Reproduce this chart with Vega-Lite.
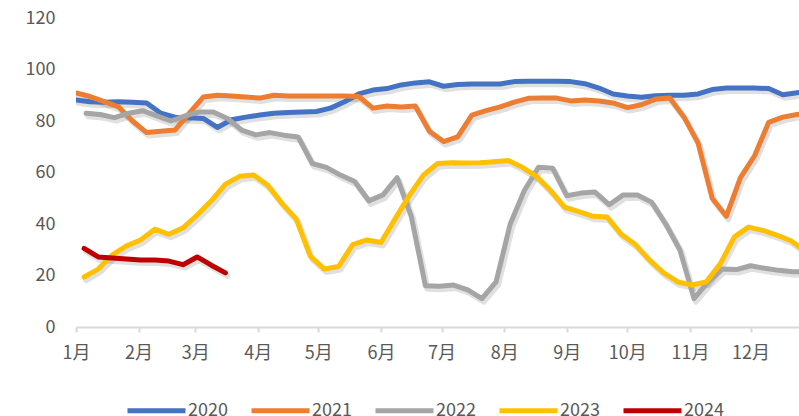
{
"$schema":"https://vega.github.io/schema/vega-lite/v6.json",
"width":723,"height":309,
"autosize":{"type":"none"},
"padding":{"left":76,"top":18,"right":0,"bottom":89},
"background":"white",
"config":{"view":{"stroke":null},"font":"Noto Sans CJK SC"},
"data":{"values":[
{"date":"2023-01-01","year":"2020","value":88.2},{"date":"2023-01-08","year":"2020","value":87.5},{"date":"2023-01-15","year":"2020","value":87.3},{"date":"2023-01-22","year":"2020","value":87.5},{"date":"2023-01-29","year":"2020","value":87.3},{"date":"2023-02-05","year":"2020","value":87},{"date":"2023-02-12","year":"2020","value":83},{"date":"2023-02-19","year":"2020","value":81.5},{"date":"2023-02-26","year":"2020","value":81.3},{"date":"2023-03-05","year":"2020","value":81},{"date":"2023-03-12","year":"2020","value":77.5},{"date":"2023-03-19","year":"2020","value":80.5},{"date":"2023-03-26","year":"2020","value":81.5},{"date":"2023-04-02","year":"2020","value":82.3},{"date":"2023-04-09","year":"2020","value":83},{"date":"2023-04-16","year":"2020","value":83.3},{"date":"2023-04-23","year":"2020","value":83.5},{"date":"2023-04-30","year":"2020","value":83.7},{"date":"2023-05-07","year":"2020","value":85},{"date":"2023-05-14","year":"2020","value":87.5},{"date":"2023-05-21","year":"2020","value":90.5},{"date":"2023-05-28","year":"2020","value":92},{"date":"2023-06-04","year":"2020","value":92.6},{"date":"2023-06-11","year":"2020","value":94},{"date":"2023-06-18","year":"2020","value":94.8},{"date":"2023-06-25","year":"2020","value":95.2},{"date":"2023-07-02","year":"2020","value":93.5},{"date":"2023-07-09","year":"2020","value":94.2},{"date":"2023-07-16","year":"2020","value":94.4},{"date":"2023-07-23","year":"2020","value":94.4},{"date":"2023-07-30","year":"2020","value":94.4},{"date":"2023-08-06","year":"2020","value":95.3},{"date":"2023-08-13","year":"2020","value":95.4},{"date":"2023-08-20","year":"2020","value":95.4},{"date":"2023-08-27","year":"2020","value":95.4},{"date":"2023-09-03","year":"2020","value":95.3},{"date":"2023-09-10","year":"2020","value":94.5},{"date":"2023-09-17","year":"2020","value":92.8},{"date":"2023-09-24","year":"2020","value":90.5},{"date":"2023-10-01","year":"2020","value":89.7},{"date":"2023-10-08","year":"2020","value":89.2},{"date":"2023-10-15","year":"2020","value":89.8},{"date":"2023-10-22","year":"2020","value":90},{"date":"2023-10-29","year":"2020","value":90},{"date":"2023-11-05","year":"2020","value":90.5},{"date":"2023-11-12","year":"2020","value":92.2},{"date":"2023-11-19","year":"2020","value":92.8},{"date":"2023-11-26","year":"2020","value":92.8},{"date":"2023-12-03","year":"2020","value":92.8},{"date":"2023-12-10","year":"2020","value":92.6},{"date":"2023-12-17","year":"2020","value":90.2},{"date":"2023-12-24","year":"2020","value":91},{"date":"2023-12-31","year":"2020","value":91.3},
{"date":"2023-01-01","year":"2021","value":90.9},{"date":"2023-01-08","year":"2021","value":89.5},{"date":"2023-01-15","year":"2021","value":87.5},{"date":"2023-01-22","year":"2021","value":85.5},{"date":"2023-01-29","year":"2021","value":80},{"date":"2023-02-05","year":"2021","value":75.5},{"date":"2023-02-12","year":"2021","value":76},{"date":"2023-02-19","year":"2021","value":76.5},{"date":"2023-02-26","year":"2021","value":83},{"date":"2023-03-05","year":"2021","value":89.3},{"date":"2023-03-12","year":"2021","value":90},{"date":"2023-03-19","year":"2021","value":89.7},{"date":"2023-03-26","year":"2021","value":89.3},{"date":"2023-04-02","year":"2021","value":88.9},{"date":"2023-04-09","year":"2021","value":90},{"date":"2023-04-16","year":"2021","value":89.7},{"date":"2023-04-23","year":"2021","value":89.7},{"date":"2023-04-30","year":"2021","value":89.7},{"date":"2023-05-07","year":"2021","value":89.7},{"date":"2023-05-14","year":"2021","value":89.7},{"date":"2023-05-21","year":"2021","value":89.5},{"date":"2023-05-28","year":"2021","value":85},{"date":"2023-06-04","year":"2021","value":85.8},{"date":"2023-06-11","year":"2021","value":85.4},{"date":"2023-06-18","year":"2021","value":85.8},{"date":"2023-06-25","year":"2021","value":76},{"date":"2023-07-02","year":"2021","value":72},{"date":"2023-07-09","year":"2021","value":73.8},{"date":"2023-07-16","year":"2021","value":82.3},{"date":"2023-07-23","year":"2021","value":84},{"date":"2023-07-30","year":"2021","value":85.5},{"date":"2023-08-06","year":"2021","value":87.3},{"date":"2023-08-13","year":"2021","value":88.8},{"date":"2023-08-20","year":"2021","value":88.9},{"date":"2023-08-27","year":"2021","value":88.9},{"date":"2023-09-03","year":"2021","value":87.8},{"date":"2023-09-10","year":"2021","value":88.2},{"date":"2023-09-17","year":"2021","value":87.8},{"date":"2023-09-24","year":"2021","value":87},{"date":"2023-10-01","year":"2021","value":85.2},{"date":"2023-10-08","year":"2021","value":86.3},{"date":"2023-10-15","year":"2021","value":88.5},{"date":"2023-10-22","year":"2021","value":88.9},{"date":"2023-10-29","year":"2021","value":81.6},{"date":"2023-11-05","year":"2021","value":71.5},{"date":"2023-11-12","year":"2021","value":50},{"date":"2023-11-19","year":"2021","value":43},{"date":"2023-11-26","year":"2021","value":58},{"date":"2023-12-03","year":"2021","value":66.5},{"date":"2023-12-10","year":"2021","value":79.5},{"date":"2023-12-17","year":"2021","value":81.5},{"date":"2023-12-24","year":"2021","value":82.5},{"date":"2023-12-31","year":"2021","value":83},
{"date":"2023-01-06","year":"2022","value":83},{"date":"2023-01-13","year":"2022","value":82.5},{"date":"2023-01-20","year":"2022","value":81.3},{"date":"2023-01-27","year":"2022","value":83},{"date":"2023-02-03","year":"2022","value":84},{"date":"2023-02-10","year":"2022","value":82},{"date":"2023-02-17","year":"2022","value":80},{"date":"2023-02-24","year":"2022","value":82},{"date":"2023-03-03","year":"2022","value":83.5},{"date":"2023-03-10","year":"2022","value":83.5},{"date":"2023-03-17","year":"2022","value":81},{"date":"2023-03-24","year":"2022","value":76.5},{"date":"2023-03-31","year":"2022","value":74.6},{"date":"2023-04-07","year":"2022","value":75.5},{"date":"2023-04-14","year":"2022","value":74.5},{"date":"2023-04-21","year":"2022","value":73.8},{"date":"2023-04-28","year":"2022","value":63.5},{"date":"2023-05-05","year":"2022","value":62},{"date":"2023-05-12","year":"2022","value":59},{"date":"2023-05-19","year":"2022","value":56.5},{"date":"2023-05-26","year":"2022","value":49},{"date":"2023-06-02","year":"2022","value":51.3},{"date":"2023-06-09","year":"2022","value":58},{"date":"2023-06-16","year":"2022","value":43},{"date":"2023-06-23","year":"2022","value":16},{"date":"2023-06-30","year":"2022","value":15.8},{"date":"2023-07-07","year":"2022","value":16.3},{"date":"2023-07-14","year":"2022","value":14.4},{"date":"2023-07-21","year":"2022","value":11},{"date":"2023-07-28","year":"2022","value":17.5},{"date":"2023-08-04","year":"2022","value":40},{"date":"2023-08-11","year":"2022","value":53},{"date":"2023-08-18","year":"2022","value":62},{"date":"2023-08-25","year":"2022","value":61.7},{"date":"2023-09-01","year":"2022","value":51},{"date":"2023-09-08","year":"2022","value":52},{"date":"2023-09-15","year":"2022","value":52.4},{"date":"2023-09-22","year":"2022","value":47.5},{"date":"2023-09-29","year":"2022","value":51.3},{"date":"2023-10-06","year":"2022","value":51.3},{"date":"2023-10-13","year":"2022","value":48.5},{"date":"2023-10-20","year":"2022","value":40},{"date":"2023-10-27","year":"2022","value":30},{"date":"2023-11-03","year":"2022","value":11},{"date":"2023-11-10","year":"2022","value":17.5},{"date":"2023-11-17","year":"2022","value":22.5},{"date":"2023-11-24","year":"2022","value":22.3},{"date":"2023-12-01","year":"2022","value":23.8},{"date":"2023-12-08","year":"2022","value":22.8},{"date":"2023-12-15","year":"2022","value":22},{"date":"2023-12-22","year":"2022","value":21.5},{"date":"2023-12-29","year":"2022","value":21.3},
{"date":"2023-01-05","year":"2023","value":19.4},{"date":"2023-01-12","year":"2023","value":22.5},{"date":"2023-01-19","year":"2023","value":28},{"date":"2023-01-26","year":"2023","value":31.5},{"date":"2023-02-02","year":"2023","value":33.8},{"date":"2023-02-09","year":"2023","value":38},{"date":"2023-02-16","year":"2023","value":36},{"date":"2023-02-23","year":"2023","value":38.5},{"date":"2023-03-02","year":"2023","value":43.5},{"date":"2023-03-09","year":"2023","value":49},{"date":"2023-03-16","year":"2023","value":55.5},{"date":"2023-03-23","year":"2023","value":58.5},{"date":"2023-03-30","year":"2023","value":59},{"date":"2023-04-06","year":"2023","value":55},{"date":"2023-04-13","year":"2023","value":48},{"date":"2023-04-20","year":"2023","value":42},{"date":"2023-04-27","year":"2023","value":27.5},{"date":"2023-05-04","year":"2023","value":22.5},{"date":"2023-05-11","year":"2023","value":23.5},{"date":"2023-05-18","year":"2023","value":32},{"date":"2023-05-25","year":"2023","value":33.8},{"date":"2023-06-01","year":"2023","value":32.8},{"date":"2023-06-08","year":"2023","value":42},{"date":"2023-06-15","year":"2023","value":51},{"date":"2023-06-22","year":"2023","value":59},{"date":"2023-06-29","year":"2023","value":63.5},{"date":"2023-07-06","year":"2023","value":63.8},{"date":"2023-07-13","year":"2023","value":63.7},{"date":"2023-07-20","year":"2023","value":63.8},{"date":"2023-07-27","year":"2023","value":64.2},{"date":"2023-08-03","year":"2023","value":64.7},{"date":"2023-08-10","year":"2023","value":62},{"date":"2023-08-17","year":"2023","value":58.5},{"date":"2023-08-24","year":"2023","value":53},{"date":"2023-08-31","year":"2023","value":46.5},{"date":"2023-09-07","year":"2023","value":44.8},{"date":"2023-09-14","year":"2023","value":43},{"date":"2023-09-21","year":"2023","value":42.7},{"date":"2023-09-28","year":"2023","value":36},{"date":"2023-10-05","year":"2023","value":32},{"date":"2023-10-12","year":"2023","value":26},{"date":"2023-10-19","year":"2023","value":21},{"date":"2023-10-26","year":"2023","value":17.5},{"date":"2023-11-02","year":"2023","value":16.3},{"date":"2023-11-09","year":"2023","value":17.5},{"date":"2023-11-16","year":"2023","value":24.5},{"date":"2023-11-23","year":"2023","value":35},{"date":"2023-11-30","year":"2023","value":38.8},{"date":"2023-12-07","year":"2023","value":37.5},{"date":"2023-12-14","year":"2023","value":35.7},{"date":"2023-12-21","year":"2023","value":33.5},{"date":"2023-12-28","year":"2023","value":29.5},
{"date":"2023-01-05","year":"2024","value":30.5},{"date":"2023-01-12","year":"2024","value":27.2},{"date":"2023-01-19","year":"2024","value":26.8},{"date":"2023-01-26","year":"2024","value":26.4},{"date":"2023-02-02","year":"2024","value":26},{"date":"2023-02-09","year":"2024","value":26},{"date":"2023-02-16","year":"2024","value":25.6},{"date":"2023-02-23","year":"2024","value":24.2},{"date":"2023-03-02","year":"2024","value":27.2},{"date":"2023-03-09","year":"2024","value":24},{"date":"2023-03-16","year":"2024","value":21}
]},
"encoding":{
 "x":{"field":"date","type":"temporal",
  "scale":{"type":"utc","nice":false,"domain":[{"year":2023,"month":1,"date":1,"utc":true},{"year":2023,"month":12,"date":25,"utc":true}]},
  "axis":{"title":null,"grid":false,
   "values":[{"year":2023,"month":1,"date":1,"utc":true},{"year":2023,"month":2,"date":1,"utc":true},{"year":2023,"month":3,"date":1,"utc":true},{"year":2023,"month":4,"date":1,"utc":true},{"year":2023,"month":5,"date":1,"utc":true},{"year":2023,"month":6,"date":1,"utc":true},{"year":2023,"month":7,"date":1,"utc":true},{"year":2023,"month":8,"date":1,"utc":true},{"year":2023,"month":9,"date":1,"utc":true},{"year":2023,"month":10,"date":1,"utc":true},{"year":2023,"month":11,"date":1,"utc":true},{"year":2023,"month":12,"date":1,"utc":true}],
   "labelExpr":"utcFormat(datum.value, '%-m') + '月'",
   "domainColor":"#d9d9d9","domainWidth":2,"tickColor":"#d9d9d9","tickWidth":2,"tickSize":5,
   "labelPadding":12,"labelFontSize":18,"labelColor":"#595959","labelFlush":false,"labelOverlap":false}},
 "y":{"field":"value","type":"quantitative",
  "scale":{"domain":[0,120],"nice":false},
  "axis":{"title":null,"grid":false,"domain":false,"ticks":false,"tickSize":0,"values":[0,20,40,60,80,100,120],
   "labelPadding":21,"labelFontSize":18,"labelColor":"#595959"}}
},
"layer":[
 {"mark":{"type":"line","clip":true,"stroke":"#000000","opacity":0.12,"strokeWidth":6,"strokeJoin":"round","strokeCap":"round","xOffset":2,"yOffset":3},
  "encoding":{"detail":{"field":"year","type":"nominal"}}},
 {"mark":{"type":"line","clip":true,"strokeWidth":5,"strokeJoin":"round","strokeCap":"round"},
  "encoding":{"color":{"field":"year","type":"nominal",
   "scale":{"domain":["2020","2021","2022","2023","2024"],"range":["#4472C4","#ED7D31","#A5A5A5","#FFC000","#C00000"]},
   "legend":{"title":null,"orient":"none","legendX":49,"legendY":361,"direction":"horizontal","columns":5,
    "symbolType":"stroke","symbolSize":3364,"symbolStrokeWidth":5,
    "labelFontSize":18,"labelColor":"#595959","labelOffset":0,"columnPadding":13,"padding":0}}}}
]
}
